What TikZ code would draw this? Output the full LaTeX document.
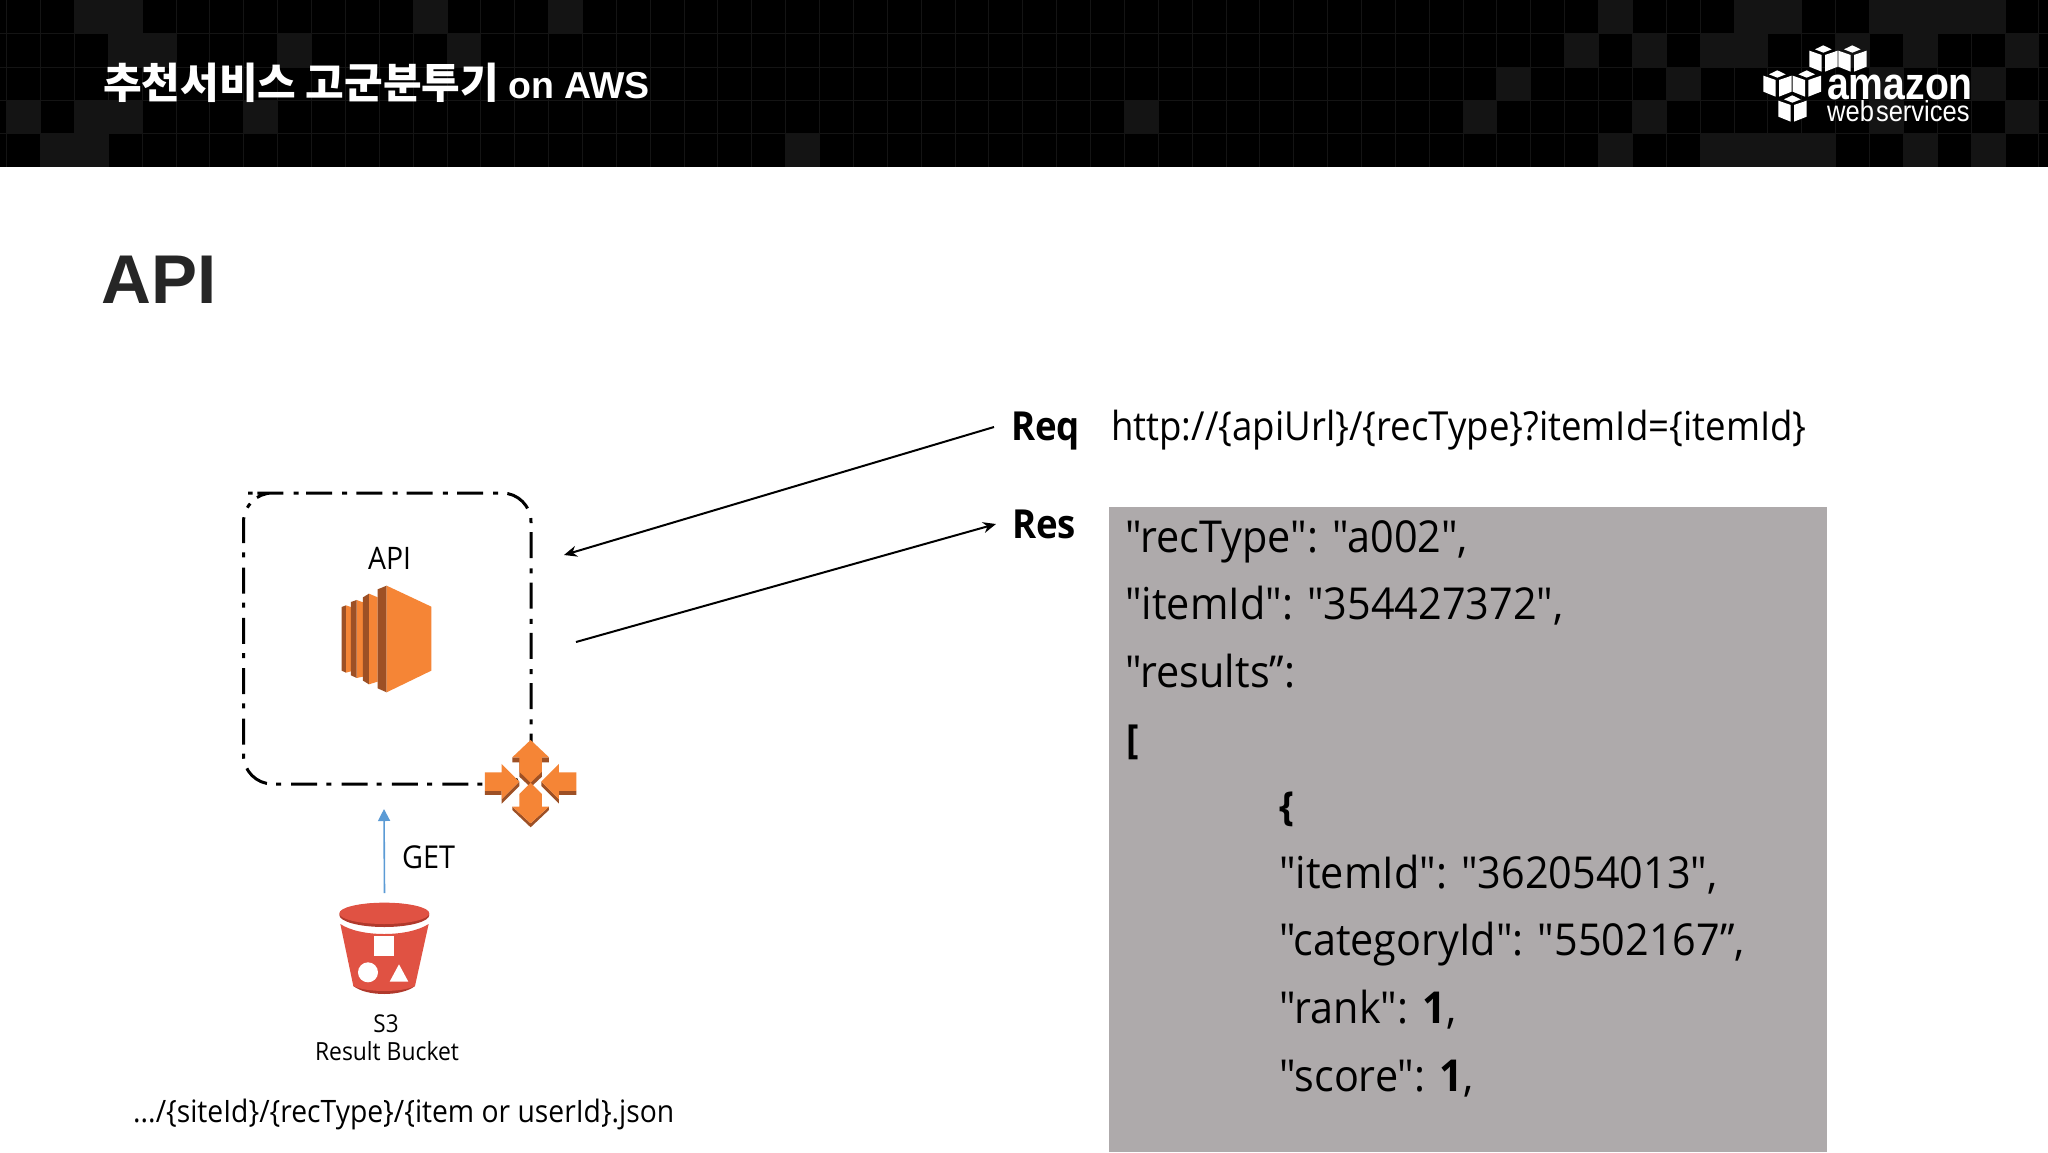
\documentclass[tikz,border=0pt]{standalone}
\usepackage{fontspec}
\usetikzlibrary{arrows.meta}
\newfontfamily\bodyfont[FakeStretch=0.915]{Open Sans}
\newfontfamily\jsonfont[FakeStretch=0.94]{Open Sans}
\newfontfamily\krfont{Noto Sans CJK KR}
\newfontfamily\headfont{Liberation Sans}
\newfontfamily\logofont[FakeStretch=0.86]{Liberation Sans}
\newfontfamily\logothin[FakeStretch=0.88]{Liberation Sans}
\definecolor{tile}{HTML}{141414}
\definecolor{gridln}{HTML}{141414}
\definecolor{awsorange}{HTML}{F58536}
\definecolor{awsdark}{HTML}{9D5025}
\definecolor{s3red}{HTML}{E05243}
\definecolor{s3dark}{HTML}{B0392C}
\definecolor{boxgray}{HTML}{AEAAAB}
\definecolor{blueline}{HTML}{5B9BD5}
\newcommand{\tilecell}[2]{\fill[tile] ({6.5+33.87*#1},{33.4*#2}) rectangle ++(33.87,33.4);}
\newcommand{\awscube}[2]{%
  \begin{scope}[shift={(#1,#2)}]
    \fill[white] (370,76)--(395,88)--(370,98)--(345,88)--cycle;
    \fill[white] (328,92)--(365,105)--(365,155)--(328,140)--cycle;
    \fill[white] (375,105)--(413,92)--(413,140)--(375,155)--cycle;
  \end{scope}}
\tikzset{
  lbl/.style={inner sep=0pt,anchor=base west,text=black},
  ctr/.style={inner sep=0pt,anchor=base,text=black},
  urltext/.style={font=\bodyfont\fontsize{40}{48}\selectfont},
  jsontext/.style={font=\jsonfont\fontsize{44}{50}\selectfont},
  jsonbold/.style={font=\jsonfont\bfseries\fontsize{40}{48}\selectfont},
  conn/.style={line width=2pt,draw=black,-{Stealth[length=13pt,width=11pt]}},
  dashbox/.style={draw=black,line width=3pt,rounded corners=29pt,dash pattern=on 26pt off 10.2pt on 5pt off 9.14pt},
}
\begin{document}
\begin{tikzpicture}[x=1pt,y=-1pt]
\useasboundingbox (0,0) rectangle (2048,1152);
\fill[white] (0,0) rectangle (2048,1152);
% header band
\fill[black] (0,0) rectangle (2048,167);
\foreach \c/\r in {2/0,3/0,12/0,16/0,47/0,51/0,52/0,55/0,56/0,57/0,58/0,
  3/1,4/1,8/1,13/1,46/1,48/1,50/1,51/1,54/1,56/1,59/1,
  44/2,49/2,55/2,58/2,
  0/3,2/3,3/3,7/3,33/3,43/3,48/3,55/3,59/3,
  1/4,2/4,23/4,47/4,50/4,51/4,52/4,53/4,56/4,58/4}{\tilecell{\c}{\r}}
\foreach \c in {0,...,60}{\draw[gridln,line width=0.6pt] ({6.5+33.87*\c},0) -- ({6.5+33.87*\c},167);}
\foreach \r in {1,2,3,4}{\draw[gridln,line width=0.6pt] (0,{33.4*\r}) -- (2048,{33.4*\r});}
\node[lbl,text=white,font=\krfont\bfseries\fontsize{42}{48}\selectfont] (titleKr) at (103,98) {추천서비스 고군분투기};
\node[lbl,text=white,font=\headfont\bfseries\fontsize{37.5}{44}\selectfont] (titleEn) at (508,98) {on AWS};
% logo
\begin{scope}[shift={(1700,20)},x=0.3333pt,y=-0.3333pt]
  \awscube{0}{0}
  \awscube{87}{0}
  \awscube{-138}{75}
  \awscube{-50}{75}
  \awscube{-93}{150}
\end{scope}
\node[inner sep=0pt,anchor=north west,align=left,text=white,font=\logothin\fontsize{29}{22.5}\selectfont] (logo) at (1827,74.5)
  {{\logofont\bfseries\fontsize{45.5}{22.5}\selectfont amazon}\\web\kern 2pt services};
% page title
\node[lbl,text={rgb,255:red,38;green,38;blue,38},font=\headfont\bfseries\fontsize{69}{76}\selectfont] (pageTitle) at (101.5,303) {API};
% response box
\fill[boxgray] (1108.5,507) rectangle (1827,1152);
% API frame
\draw[dashbox] (277,493) -- (531,493) -- (531,784) -- (243.5,784) -- (243.5,493) -- cycle;
\node[lbl,font=\bodyfont\fontsize{31}{36}\selectfont] (apiLabel) at (368,569) {API};
% EC2 icon
\begin{scope}[shift={(220,480)},x=0.3333pt,y=-0.3333pt]
  \fill[awsorange] (378,376)--(393,381)--(393,574)--(378,578)--cycle;
  \fill[awsdark] (365,381)--(378,376)--(378,578)--(365,572)--cycle;
  \fill[awsorange] (410,360)--(429,367)--(429,590)--(410,594)--cycle;
  \fill[awsdark] (393,366)--(410,360)--(410,594)--(393,586)--cycle;
  \fill[awsorange] (447,341)--(473,352)--(473,605)--(447,613)--cycle;
  \fill[awsdark] (429,352)--(447,341)--(447,613)--(429,602)--cycle;
  \fill[awsdark] (473,328)--(500,317)--(500,637)--(473,625)--cycle;
  \fill[awsorange] (500,317)--(634,380)--(634,572)--(500,637)--cycle;
\end{scope}
% load balancer icon
\begin{scope}[shift={(220,480)},x=0.3333pt,y=-0.3333pt]
  % dark undersides
  \fill[awsdark] (877,832)--(987,832)--(987,847)--(966,847)--(966,890)--(932,922)--(898,890)--(898,847)--(877,847)--cycle;
  \fill[awsdark] (877,980)--(932,1030)--(987,980)--(987,990)--(932,1042)--(877,990)--cycle;
  \fill[awsdark] (795,933)--(845,933)--(845,958)--(898,905)--(898,918)--(845,971)--(845,945)--(795,945)--cycle;
  \fill[awsdark] (1069,933)--(1017,933)--(1017,958)--(964,905)--(964,918)--(1017,971)--(1017,945)--(1069,945)--cycle;
  % faces
  \fill[awsorange] (932,780)--(987,832)--(966,832)--(966,875)--(932,908)--(898,875)--(898,832)--(877,832)--cycle;
  \fill[awsorange] (932,908)--(966,942)--(966,980)--(987,980)--(932,1030)--(877,980)--(898,980)--(898,942)--cycle;
  \fill[awsorange] (795,877)--(845,877)--(845,852)--(898,905)--(845,958)--(845,933)--(795,933)--cycle;
  \fill[awsorange] (1069,877)--(1017,877)--(1017,852)--(964,905)--(1017,958)--(1017,933)--(1069,933)--cycle;
\end{scope}
% S3 icon
\begin{scope}[shift={(300,880)},x=0.3333pt,y=-0.3333pt]
  \fill[s3dark] (160,318) .. controls (200,350) and (305,350) .. (345,318) -- (345,300) -- (160,300) -- cycle;
  \fill[s3red] (121,132) .. controls (180,172) and (325,172) .. (386,132) -- (345,318) .. controls (305,338) and (200,338) .. (160,318) -- cycle;
  \fill[s3dark] (253,105) ellipse[x radius=135,y radius=36];
  \fill[s3red] (253,100) ellipse[x radius=135,y radius=32];
  \fill[white] (222,168) rectangle (281,228);
  \fill[white] (204,277) circle[radius=30];
  \fill[white] (297,253)--(325,305)--(269,305)--cycle;
\end{scope}
% small labels
\node[lbl,font=\bodyfont\fontsize{31.5}{36}\selectfont] (getLabel) at (402,868) {GET};
\node[ctr,font=\bodyfont\fontsize{24.5}{28}\selectfont] (s3Label) at (386,1032.5) {S3};
\node[ctr,font=\bodyfont\fontsize{25}{28}\selectfont] (bucketLabel) at (387,1060) {Result Bucket};
\node[lbl,font=\bodyfont\fontsize{30.9}{36}\selectfont] (pathLabel) at (133,1122) {.../\{siteId\}/\{recType\}/\{item or userId\}.json};
% request / response
\node[lbl,font=\bodyfont\bfseries\fontsize{40}{46}\selectfont] (req) at (1011,440) {Req};
\node[lbl,font=\bodyfont\bfseries\fontsize{40}{46}\selectfont] (res) at (1012,538.5) {Res};
\node[lbl,urltext] (url) at (1111,440) {http://\{apiUrl\}/\{recType\}?itemId=\{itemId\}};
\node[lbl,jsontext] (l1) at (1125,552) {"recType": "a002",};
\node[lbl,jsontext] (l2) at (1125,619.5) {"itemId": "354427372",};
\node[lbl,jsontext] (l3) at (1125,687) {"results”:};
\node[lbl,jsonbold] (l4) at (1126,753) {[};
\node[lbl,jsonbold] (l5) at (1279,820) {\{};
\node[lbl,jsontext] (l6) at (1279,888) {"itemId": "362054013",};
\node[lbl,jsontext] (l7) at (1279,955.5) {"categoryId": "5502167”,};
\node[lbl,jsontext] (l8) at (1279,1023) {"rank": {\bfseries 1},};
\node[lbl,jsontext] (l9) at (1279,1091) {"score": {\bfseries 1},};
% connectors
\coordinate (reqTail) at (994,427);
\coordinate (reqHead) at (564,555);
\coordinate (resTail) at (576,642);
\coordinate (resHead) at (996,524);
\coordinate (getTail) at (384.5,893);
\coordinate (getHead) at (384,809);
\draw[conn] (reqTail) -- (reqHead);
\draw[conn] (resTail) -- (resHead);
\draw[line width=1.6pt,draw=blueline,-{Stealth[length=12pt,width=12pt,inset=0pt]}] (getTail) -- (getHead);
\end{tikzpicture}
\end{document}
